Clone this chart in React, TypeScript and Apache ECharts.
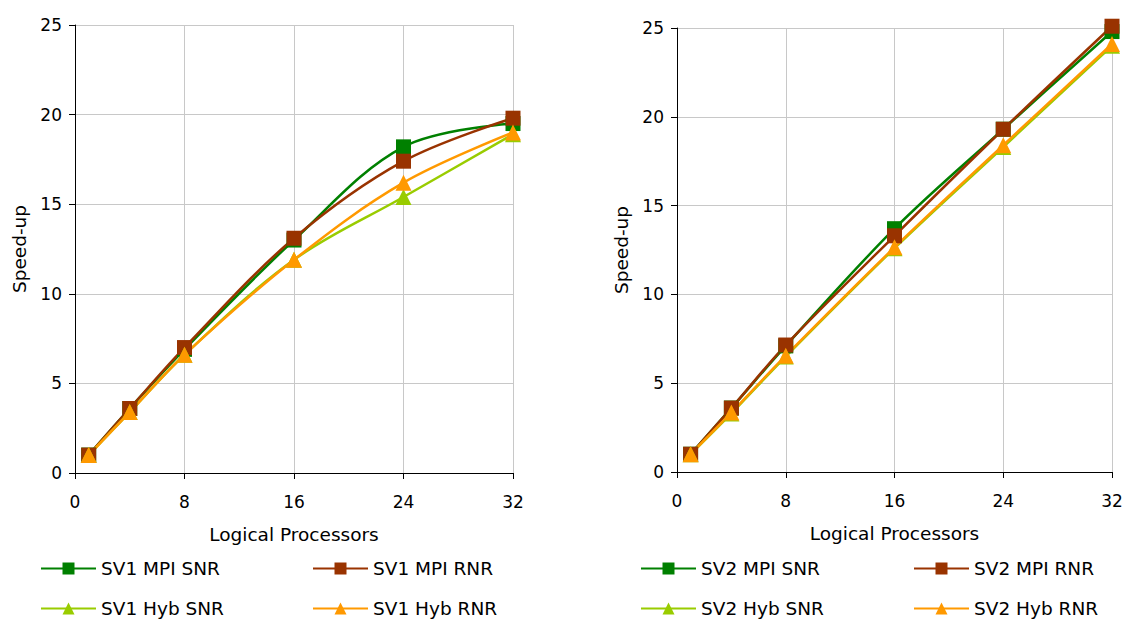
import React, { useEffect, useRef } from "react";
import * as echarts from "echarts";

const processors = [1, 4, 8, 16, 24, 32];

const sv1MpiSnr = [1.0, 3.6, 6.9, 13.0, 18.2, 19.5];
const sv1MpiRnr = [1.0, 3.6, 7.0, 13.1, 17.4, 19.8];
const sv1HybSnr = [1.0, 3.4, 6.6, 11.9, 15.4, 18.9];
const sv1HybRnr = [1.0, 3.4, 6.6, 11.9, 16.2, 19.0];

const sv2MpiSnr = [1.0, 3.6, 7.1, 13.7, 19.3, 24.8];
const sv2MpiRnr = [1.0, 3.6, 7.15, 13.3, 19.3, 25.1];
const sv2HybSnr = [1.0, 3.3, 6.5, 12.6, 18.3, 24.0];
const sv2HybRnr = [1.0, 3.35, 6.55, 12.65, 18.4, 24.1];

const names1 = ["SV1 MPI SNR", "SV1 MPI RNR", "SV1 Hyb SNR", "SV1 Hyb RNR"];
const names2 = ["SV2 MPI SNR", "SV2 MPI RNR", "SV2 Hyb SNR", "SV2 Hyb RNR"];

const COLORS = ["#008000", "#993300", "#99CC00", "#FF9900"];
const SYMBOLS = ["rect", "rect", "triangle", "triangle"];
const FONT = "DejaVu Sans";

export default function App() {
  const ref = useRef<HTMLDivElement>(null);

  useEffect(() => {
    if (!ref.current) return;
    const chart = echarts.init(ref.current, null, { renderer: "svg" });

    const grids = [
      { left: 75, top: 25, width: 438, height: 448 },
      { left: 677, top: 28, width: 435, height: 444 },
    ];

    const mkX = (gi: number) => ({
      type: "value",
      gridIndex: gi,
      min: 0,
      max: 32,
      interval: 8,
      name: "Logical Processors",
      nameLocation: "middle",
      nameGap: 52,
      nameTextStyle: { fontFamily: FONT, fontSize: 18.5, color: "#000" },
      axisLine: { show: true, onZero: false, lineStyle: { color: "#000", width: 1 } },
      axisTick: { show: true, length: 6, inside: false, lineStyle: { color: "#000" } },
      axisLabel: { margin: 20, fontFamily: FONT, fontSize: 17, color: "#000" },
      splitLine: { show: true, lineStyle: { color: "#c8c8c8", width: 1 } },
    });

    const mkY = (gi: number) => ({
      type: "value",
      gridIndex: gi,
      min: 0,
      max: 25,
      interval: 5,
      name: "Speed-up",
      nameLocation: "middle",
      nameGap: 46,
      nameTextStyle: { fontFamily: FONT, fontSize: 18.5, color: "#000" },
      axisLine: { show: true, lineStyle: { color: "#000", width: 1 } },
      axisTick: { show: true, length: 6, inside: false, lineStyle: { color: "#000" } },
      axisLabel: { margin: 13, fontFamily: FONT, fontSize: 17, color: "#000" },
      splitLine: { show: true, lineStyle: { color: "#c8c8c8", width: 1 } },
    });

    const mkSeries = (name: string, vals: number[], i: number, gi: number) => ({
      name,
      type: "line",
      xAxisIndex: gi,
      yAxisIndex: gi,
      data: processors.map((p, k) => [p, vals[k]]),
      smooth: 0.35,
      clip: false,
      symbol: SYMBOLS[i],
      symbolSize: SYMBOLS[i] === "rect" ? 15 : 16,
      itemStyle: { color: COLORS[i] },
      lineStyle: { color: COLORS[i], width: 2.5 },
    });

    const series = [
      ...[sv1MpiSnr, sv1MpiRnr, sv1HybSnr, sv1HybRnr].map((v, i) => mkSeries(names1[i], v, i, 0)),
      ...[sv2MpiSnr, sv2MpiRnr, sv2HybSnr, sv2HybRnr].map((v, i) => mkSeries(names2[i], v, i, 1)),
    ];

    const legendPos = [
      { left: 40, top: 559 },
      { left: 312, top: 559 },
      { left: 40, top: 599 },
      { left: 312, top: 599 },
    ];
    const legendPos2 = [
      { left: 640, top: 559 },
      { left: 913, top: 559 },
      { left: 640, top: 599 },
      { left: 913, top: 599 },
    ];
    const mkLegend = (name: string, pos: { left: number; top: number }) => ({
      data: [name],
      left: pos.left,
      top: pos.top,
      padding: 0,
      itemWidth: 55,
      itemHeight: 15,
      itemGap: 0,
      textStyle: { fontFamily: FONT, fontSize: 18.5, color: "#000", padding: [0, 0, 0, 0] },
      selectedMode: false,
    });

    chart.setOption({
      animation: false,
      backgroundColor: "#fff",
      textStyle: { fontFamily: FONT },
      grid: grids,
      xAxis: [mkX(0), mkX(1)],
      yAxis: [mkY(0), mkY(1)],
      legend: [
        ...names1.map((n, i) => mkLegend(n, legendPos[i])),
        ...names2.map((n, i) => mkLegend(n, legendPos2[i])),
      ],
      series,
    });

    return () => chart.dispose();
  }, []);

  return (
    <div
      ref={ref}
      style={{ position: "fixed", left: 0, top: 0, width: 1127, height: 621, background: "#fff" }}
    />
  );
}
